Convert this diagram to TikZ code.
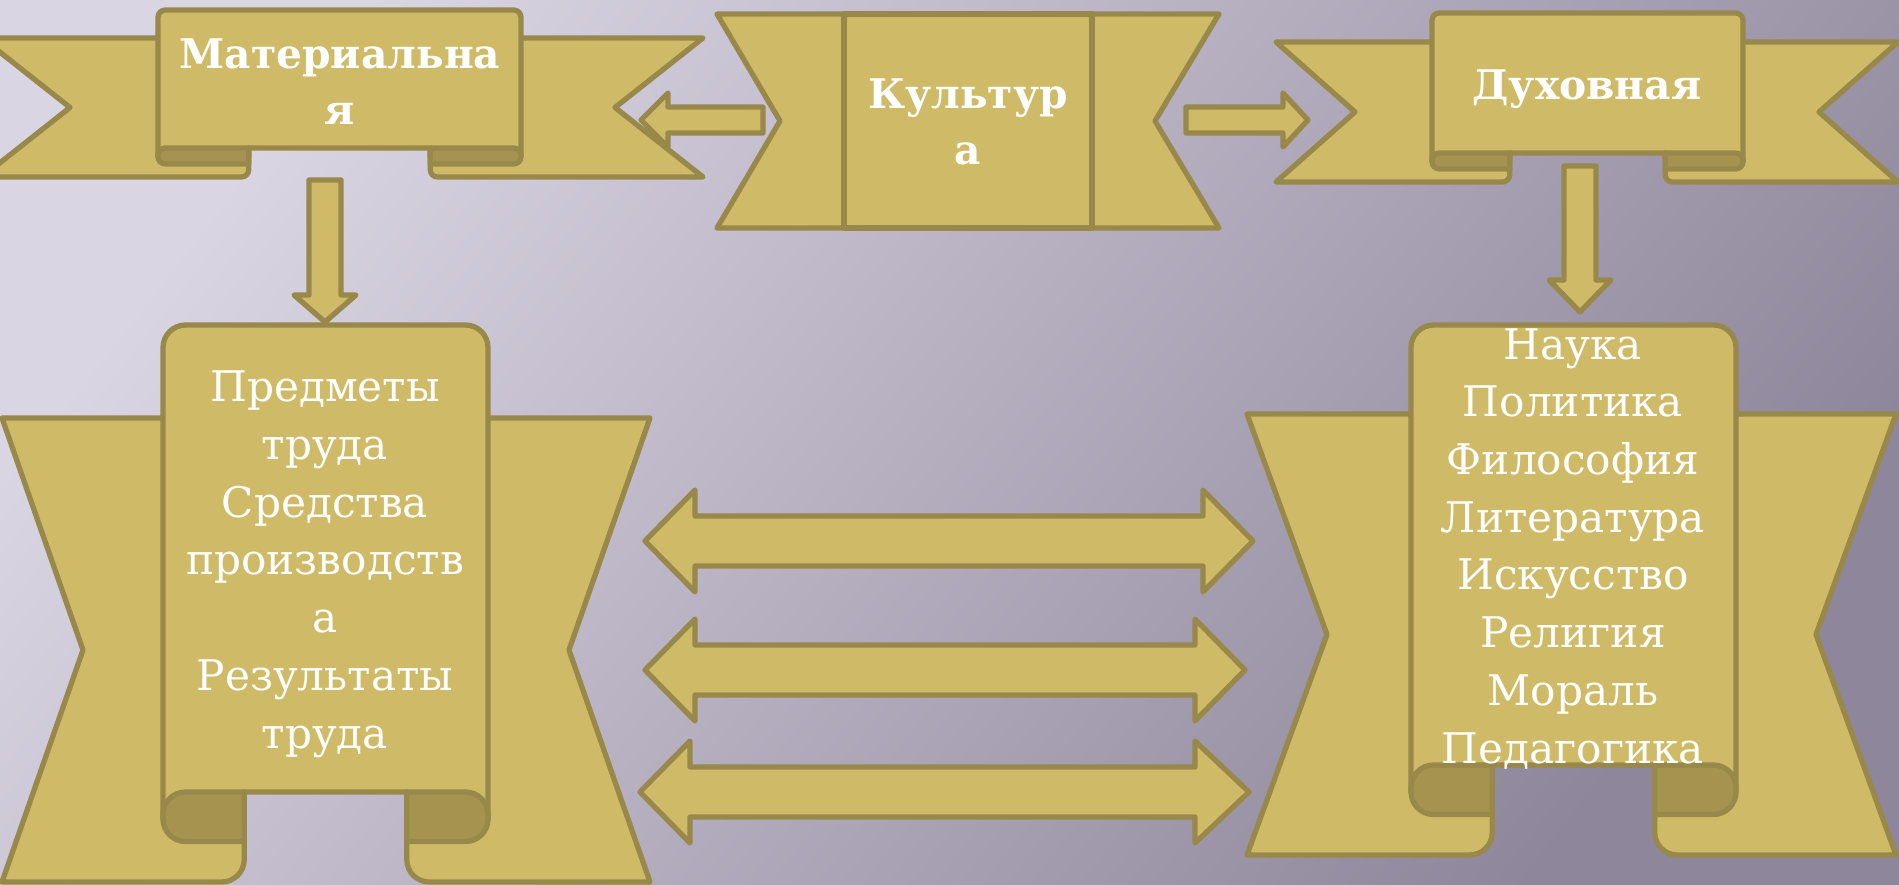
\documentclass[tikz,border=0pt]{standalone}
\usepackage{fontspec}
\setmainfont{DejaVu Serif}
\usepackage{tikz}
\usetikzlibrary{calc}
\definecolor{ribbon-gold}{RGB}{207,187,103}
\definecolor{ribbon-line}{RGB}{152,136,74}
\definecolor{ribbon-fold}{RGB}{166,147,80}
\definecolor{back-light}{RGB}{218,213,227}
\definecolor{back-dark}{RGB}{142,134,154}
\tikzstyle{gold}=[fill=ribbon-gold, draw=ribbon-line, line width=1.5pt, line join=round]
\tikzstyle{fold}=[fill=ribbon-fold, draw=ribbon-line, line width=1.5pt, line join=round]
\tikzstyle{listtext}=[text=white, align=center, inner sep=0pt, anchor=base, font=\fontsize{12pt}{16.4pt}\selectfont]
\tikzstyle{headtext}=[listtext, font=\fontsize{11.6pt}{16.2pt}\selectfont\bfseries]
\newcommand{\scrollBanner}[9]{
	\pgfmathsetmacro{\curlW}{0.25*(#7-#6)}
	\pgfmathsetmacro{\curlR}{0.25*(#5-#9)}
	\pgfmathsetmacro{\curlRpt}{0.2845*\curlR}
	\pgfmathsetmacro{\foldB}{#9+0.55*(#5-#9)}
	\pgfmathsetmacro{\midY}{0.5*(#4+#5)}
	\draw[gold] (#1,#4) -- (#6+\curlW,#4) [rounded corners=\curlRpt pt] -- (#6+\curlW,#5) [sharp corners] -- (#1,#5) -- (#1+#3,\midY) -- cycle;
	\draw[gold] (#2,#4) -- (#7-\curlW,#4) [rounded corners=\curlRpt pt] -- (#7-\curlW,#5) [sharp corners] -- (#2,#5) -- (#2-#3,\midY) -- cycle;
	\draw[gold] (#6,\foldB-\curlR) [rounded corners=\curlRpt pt] -- (#6,#8) -- (#7,#8) [sharp corners] -- (#7,\foldB-\curlR) -- (#7-\curlW,\foldB-\curlR) -- (#7-\curlW,#9) -- (#6+\curlW,#9) -- (#6+\curlW,\foldB-\curlR) -- cycle;
	\draw[fold] (#6+\curlW,#9) -- (#6+\curlW,\foldB) [rounded corners=\curlRpt pt] -- (#6,\foldB) -- (#6,#9) [sharp corners] -- cycle;
	\draw[fold] (#7-\curlW,#9) -- (#7-\curlW,\foldB) [rounded corners=\curlRpt pt] -- (#7,\foldB) -- (#7,#9) [sharp corners] -- cycle;
}
\begin{document}
\begin{tikzpicture}[x=0.01cm,y=-0.01cm]
	\useasboundingbox (0,0) rectangle (1899,885);
	\clip (0,0) rectangle (1899,885);
	\shade[top color=back-light, bottom color=back-dark, shading angle=52] (0,0) rectangle (1899,885);
	% banners
	\scrollBanner{-18}{703}{88}{38}{177}{158}{521}{10}{148}
	\scrollBanner{1276}{1898}{79}{42}{182}{1432}{1743}{13}{153}
	\scrollBanner{2}{650}{81}{418}{882}{163}{488}{325}{792}
	\scrollBanner{1247}{1896}{80}{414}{855}{1411}{1736}{325}{765}
	\draw[gold] (717,14) -- (1219,14) -- (1155,121) -- (1219,228) -- (717,228) -- (780,121) -- cycle;
	\draw[gold] (844,14) rectangle (1092,228);
	% arrows
	\draw[gold] (641,120) -- (668,93) -- (668,107) -- (763,107) -- (763,133) -- (668,133) -- (668,147) -- cycle;
	\draw[gold] (1308,120) -- (1283,93) -- (1283,107) -- (1186,107) -- (1186,133) -- (1283,133) -- (1283,147) -- cycle;
	\draw[gold] (309,180) -- (341,180) -- (341,295) -- (356,295) -- (325,322) -- (294,295) -- (309,295) -- cycle;
	\draw[gold] (1564,166) -- (1596,166) -- (1596,280) -- (1611,280) -- (1580,312) -- (1549,280) -- (1564,280) -- cycle;
	\foreach \y/\xa/\xb/\xc in {541/645/1203/1253, 670/645/1195/1245, 792/640/1195/1249}
		\draw[gold] (\xa,\y) -- (\xa+50,\y-51) -- (\xa+50,\y-25) -- (\xb,\y-25) -- (\xb,\y-51) -- (\xc,\y) -- (\xb,\y+51) -- (\xb,\y+25) -- (\xa+50,\y+25) -- (\xa+50,\y+51) -- cycle;
	% texts
	\node[headtext] (mat) at (340,125) {Материальна\\я};
	\node[headtext] (kult) at (968,165) {Культур\\а};
	\node[headtext] (duh) at (1587,100) {Духовная};
	\node[listtext] (predm) at (325,748) {Предметы\\труда\\Средства\\производств\\а\\Результаты\\труда};
	\node[listtext] (nauka) at (1573,763) {Наука\\Политика\\Философия\\Литература\\Искусство\\Религия\\Мораль\\Педагогика};
\end{tikzpicture}
\end{document}
